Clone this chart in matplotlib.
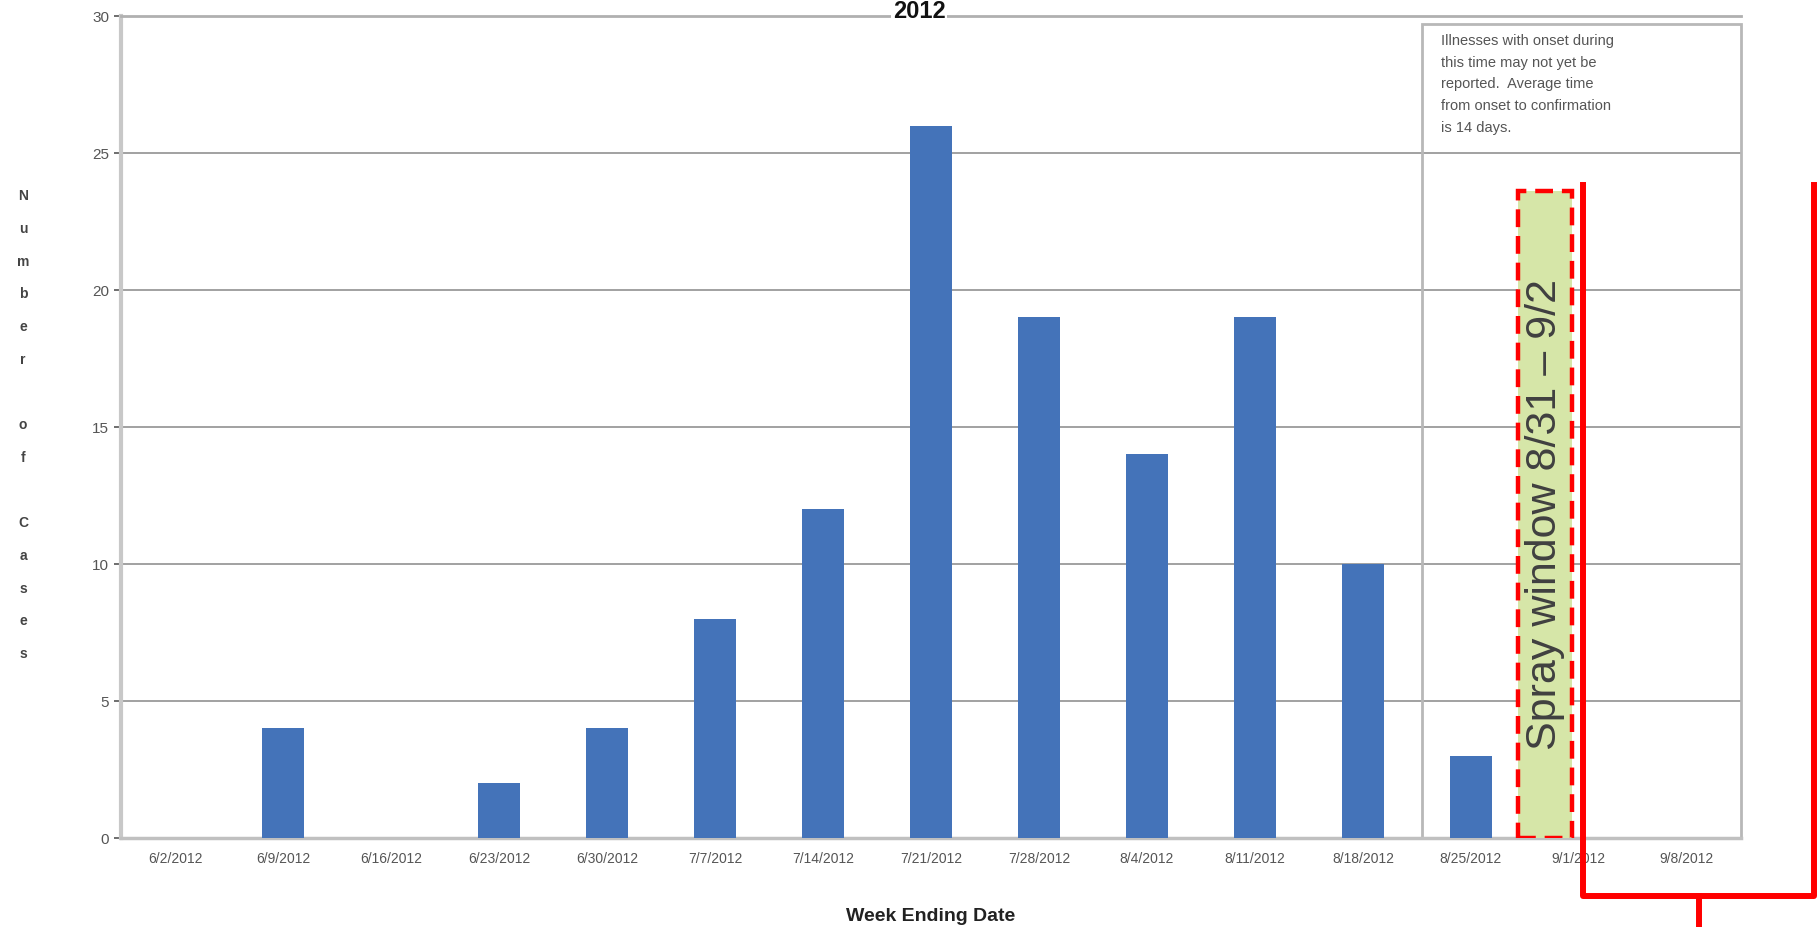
import matplotlib.pyplot as plt
from matplotlib.patches import Rectangle

weeks = ['6/2/2012', '6/9/2012', '6/16/2012', '6/23/2012', '6/30/2012',
         '7/7/2012', '7/14/2012', '7/21/2012', '7/28/2012', '8/4/2012',
         '8/11/2012', '8/18/2012', '8/25/2012', '9/1/2012', '9/8/2012']
cases = [0, 4, 0, 2, 4, 8, 12, 26, 19, 14, 19, 10, 3, 0, 0]
yticks = [0, 5, 10, 15, 20, 25, 30]

note = ('Illnesses with onset during\nthis time may not yet be\n'
        'reported.  Average time\nfrom onset to confirmation\nis 14 days.')

plt.rcParams['font.family'] = ['Liberation Sans', 'DejaVu Sans']

fig = plt.figure(figsize=(18.2, 9.27), dpi=100)
ax = fig.add_axes([0.0665, 0.096, 0.89, 0.8867])

x = list(range(len(weeks)))
ax.bar(x, cases, width=0.39, color='#4473B9', zorder=3)

ax.set_xlim(-0.5, len(weeks) - 0.5)
ax.set_ylim(0, 30)
ax.set_yticks(yticks)
ax.set_xticks(x)
ax.set_xticklabels(weeks, fontsize=10, color='#555555')
ax.tick_params(axis='y', labelsize=11, colors='#555555', length=5, width=1.2)
ax.tick_params(axis='x', length=0, pad=10)
ax.grid(axis='y', color='#9a9a9a', linewidth=1.3, zorder=1)
ax.set_axisbelow(True)

ax.spines['right'].set_visible(False)
ax.spines['top'].set_color('#b0b0b0')
ax.spines['top'].set_linewidth(2)
ax.spines['left'].set_color('#c8c8c8')
ax.spines['left'].set_linewidth(3)
ax.spines['bottom'].set_color('#c0c0c0')
ax.spines['bottom'].set_linewidth(2.5)

# note box on the right
ax.add_patch(Rectangle((11.55, 0), 14.5 - 11.55, 29.7, fill=False,
                       edgecolor='#b8b8b8', linewidth=2, zorder=2, clip_on=False))
ax.text(11.72, 29.35, note, fontsize=10.5, color='#555555', va='top', ha='left',
        linespacing=1.7, zorder=4)

# spray window
ax.add_patch(Rectangle((12.44, 0), 0.5, 23.6, facecolor='#d6e6a8',
                       edgecolor='#ff0000', linewidth=3.2, linestyle=(0, (4, 2)),
                       zorder=5))
ax.text(12.69, 11.8, 'Spray window 8/31 \u2013 9/2', rotation=90, fontsize=31,
        color='#404040', ha='center', va='center', zorder=6)

# red bracket
bx0, bx1, btop, bbot = 13.04, 15.18, 23.85, -2.1
ax.plot([bx0, bx0, bx1, bx1], [btop, bbot, bbot, btop], color='#ff0000',
        linewidth=4.3, solid_joinstyle='round', clip_on=False, zorder=7)
ax.plot([(bx0 + bx1) / 2] * 2, [bbot, -3.3], color='#ff0000', linewidth=4.3,
        clip_on=False, zorder=7)

# title
fig.text(0.505, 0.981, '2012', fontsize=17, fontweight='bold', ha='center',
         va='baseline', color='#111111',
         bbox=dict(facecolor='white', edgecolor='none', pad=1))

ax.set_xlabel('Week Ending Date', fontsize=14, fontweight='bold',
              color='#222222', labelpad=30)

fig.text(0.0127, 0.796, '\n'.join(list('Number of Cases')), fontsize=10,
         fontweight='bold', color='#444444', ha='center', va='top',
         linespacing=2.7)

fig.savefig('out.png', dpi=100)
